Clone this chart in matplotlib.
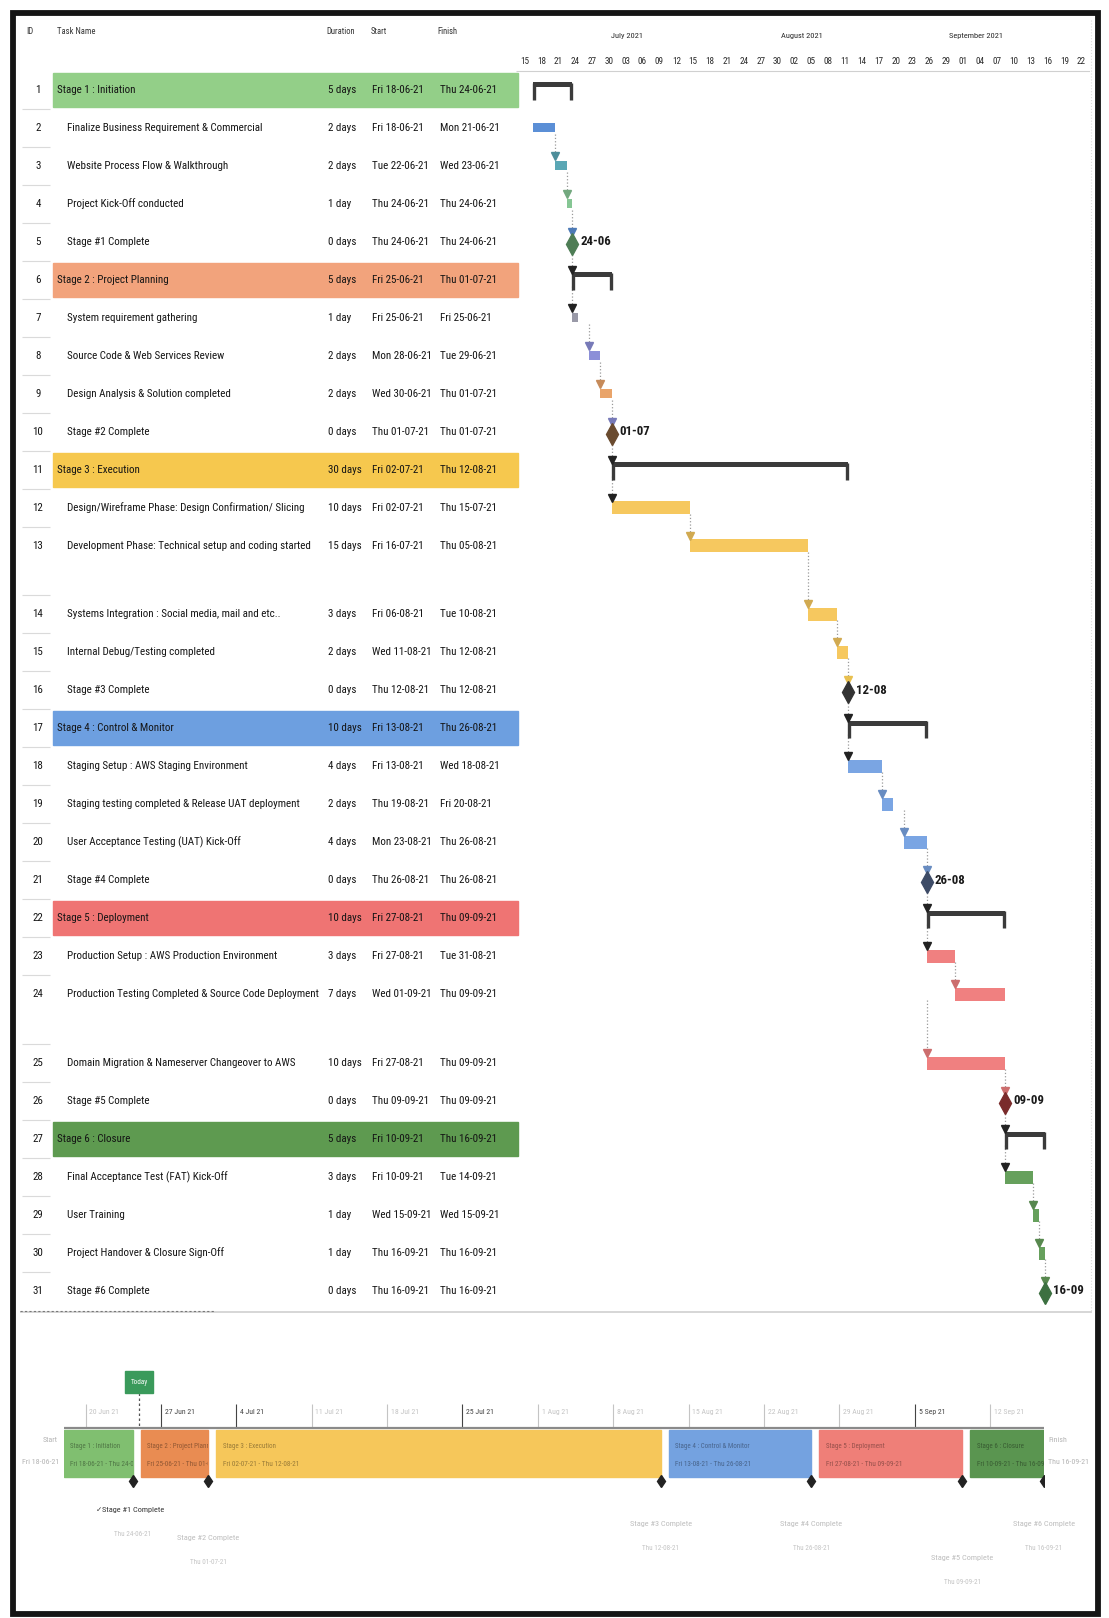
import os
import matplotlib
matplotlib.use("Agg")
import matplotlib.pyplot as plt
import matplotlib.dates as mdates
import matplotlib.colors as mcolors
from matplotlib import font_manager
from matplotlib.font_manager import FontProperties
from matplotlib.patches import Rectangle
import pandas as pd

# ---- project data ----
task_ids = list(range(1, 32))
task_names = [
    "Stage 1 : Initiation",
    "Finalize Business Requirement & Commercial",
    "Website Process Flow & Walkthrough",
    "Project Kick-Off conducted",
    "Stage #1 Complete",
    "Stage 2 : Project Planning",
    "System requirement gathering",
    "Source Code & Web Services Review",
    "Design Analysis & Solution completed",
    "Stage #2 Complete",
    "Stage 3 : Execution",
    "Design/Wireframe Phase: Design Confirmation/ Slicing",
    "Development Phase: Technical setup and coding started",
    "Systems Integration : Social media, mail and etc..",
    "Internal Debug/Testing completed",
    "Stage #3 Complete",
    "Stage 4 : Control & Monitor",
    "Staging Setup : AWS Staging Environment",
    "Staging testing completed & Release UAT deployment",
    "User Acceptance Testing (UAT) Kick-Off",
    "Stage #4 Complete",
    "Stage 5 : Deployment",
    "Production Setup : AWS Production Environment",
    "Production Testing Completed & Source Code Deployment",
    "Domain Migration & Nameserver Changeover to AWS",
    "Stage #5 Complete",
    "Stage 6 : Closure",
    "Final Acceptance Test (FAT) Kick-Off",
    "User Training",
    "Project Handover & Closure Sign-Off",
    "Stage #6 Complete",
]
durations = [5, 2, 2, 1, 0, 5, 1, 2, 2, 0, 30, 10, 15, 3, 2, 0,
             10, 4, 2, 4, 0, 10, 3, 7, 10, 0, 5, 3, 1, 1, 0]
starts = ["2021-06-18", "2021-06-18", "2021-06-22", "2021-06-24", "2021-06-24",
          "2021-06-25", "2021-06-25", "2021-06-28", "2021-06-30", "2021-07-01",
          "2021-07-02", "2021-07-02", "2021-07-16", "2021-08-06", "2021-08-11", "2021-08-12",
          "2021-08-13", "2021-08-13", "2021-08-19", "2021-08-23", "2021-08-26",
          "2021-08-27", "2021-08-27", "2021-09-01", "2021-08-27", "2021-09-09",
          "2021-09-10", "2021-09-10", "2021-09-15", "2021-09-16", "2021-09-16"]
finishes = ["2021-06-24", "2021-06-21", "2021-06-23", "2021-06-24", "2021-06-24",
            "2021-07-01", "2021-06-25", "2021-06-29", "2021-07-01", "2021-07-01",
            "2021-08-12", "2021-07-15", "2021-08-05", "2021-08-10", "2021-08-12", "2021-08-12",
            "2021-08-26", "2021-08-18", "2021-08-20", "2021-08-26", "2021-08-26",
            "2021-09-09", "2021-08-31", "2021-09-09", "2021-09-09", "2021-09-09",
            "2021-09-16", "2021-09-14", "2021-09-15", "2021-09-16", "2021-09-16"]
stage_of = [1, 1, 1, 1, 1, 2, 2, 2, 2, 2, 3, 3, 3, 3, 3, 3,
            4, 4, 4, 4, 4, 5, 5, 5, 5, 5, 6, 6, 6, 6, 6]
summary_rows = [1, 6, 11, 17, 22, 27]
today = "2021-06-25"

# ---- colours ----
row_fill = {1: "#93cf88", 2: "#f2a37c", 3: "#f6c84e", 4: "#6d9fe0", 5: "#ef7473", 6: "#5e9a50"}
seg_fill = {1: "#80bf70", 2: "#e98c52", 3: "#f6c75a", 4: "#74a2e0", 5: "#ef7f78", 6: "#5a9550"}
task_col = {1: "#5b8fd6", 2: "#8c8fd8", 3: "#f6c85f", 4: "#7aa5e3", 5: "#f08080", 6: "#66a05c"}
task_col_override = {3: "#5aa7b5", 4: "#86c694", 7: "#9a9aa8", 9: "#e9a46a"}
ms_col = {1: "#4e7d55", 2: "#6a4b2f", 3: "#333333", 4: "#3d4b66", 5: "#7a2b2b", 6: "#3c7040"}
SUM_C = "#3b3b3b"


def darker(c, f=0.72):
    r, g, b = mcolors.to_rgb(c)
    return (r * f, g * f, b * f)


# ---- fonts: the print uses a very narrow face, take the narrowest one installed ----
def find_font(patterns):
    files = [f.fname for f in font_manager.fontManager.ttflist]
    for p in patterns:
        for fn in files:
            if os.path.basename(fn).startswith(p):
                return FontProperties(fname=fn)
    return None


REG = find_font(["LiberationSansNarrow-Regular", "NotoSans-ExtraCondensed.",
                 "NotoSans-Condensed.", "RobotoCondensed-Regular", "DejaVuSansCondensed.",
                 "LiberationSans-Regular"]) or FontProperties(family="DejaVu Sans")
BOLD = find_font(["LiberationSansNarrow-Bold.", "NotoSans-ExtraCondensedBold.",
                  "NotoSans-CondensedBold.", "RobotoCondensed-Bold", "DejaVuSansCondensed-Bold.",
                  "LiberationSans-Bold."]) or FontProperties(family="DejaVu Sans", weight="bold")
CHECK = FontProperties(family="DejaVu Sans")


def fmt(d):
    return f"{d:%a} {d:%d-%m-%y}"


start_d = pd.to_datetime(starts)
finish_d = pd.to_datetime(finishes)

W, H = 1109, 1618
fig = plt.figure(figsize=(W / 100, H / 100), dpi=100)
renderer = fig.canvas.get_renderer()


def fit(sample, width_px, fp=REG, cap=None):
    t = fig.text(0, 0, sample, fontproperties=fp, fontsize=10)
    w = t.get_window_extent(renderer).width
    t.remove()
    size = 10 * width_px / w
    return min(size, cap) if cap else size


FS_BODY = fit("Development Phase: Technical setup and coding started", 241)
FS_HDR = fit("Task Name", 38)
FS_DAY = fit("15", 9, cap=FS_BODY * 0.85)
FS_MONTH = fit("July 2021", 32)
FS_MS = fit("24-06", 31, BOLD)
FS_WEEK = fit("27 Jun 21", 30)
FS_CALL = fit("Stage #3 Complete", 62)
FS_CALLD = fit("Thu 12-08-21", 37)
FS_SEG = fit("Stage 3 : Execution", 52)
FS_SEGD = fit("Fri 02-07-21 - Thu 12-08-21", 77)
FS_SIDE = fit("Fri 18-06-21", 37)
FS_TODAY = fit("Today", 17)


def px_axes(x0, y0, x1, y1):
    ax = fig.add_axes([x0 / W, 1 - y1 / H, (x1 - x0) / W, (y1 - y0) / H])
    ax.set_ylim(y1, y0)
    ax.axis("off")
    return ax


base = px_axes(0, 0, W, H)
base.set_xlim(0, W)

# row centres (rows 13 and 24 are double height in the print)
row_y = []
y = 89.8
for tid in task_ids:
    row_y.append(y)
    y += 68.6 if tid in (13, 24) else 38.0

# ---- table ----
hdr = dict(fontproperties=REG, fontsize=FS_HDR, color="#333333", va="center")
base.text(26, 31, "ID", **hdr)
base.text(57, 31, "Task Name", **hdr)
base.text(326, 31, "Duration", **hdr)
base.text(371, 31, "Start", **hdr)
base.text(437, 31, "Finish", **hdr)

txt = dict(fontproperties=REG, fontsize=FS_BODY, color="#141414", va="center")
for i, tid in enumerate(task_ids):
    yc = row_y[i]
    st = stage_of[i]
    if tid in summary_rows:
        base.add_patch(Rectangle((53, yc - 17), 465, 34, color=row_fill[st], zorder=0))
        nx = 57
    else:
        nx = 67
    base.text(38, yc, str(tid), ha="center", **txt)
    base.text(nx, yc, task_names[i], **txt)
    d = durations[i]
    base.text(328, yc, f"{d} day" if d == 1 else f"{d} days", **txt)
    base.text(372, yc, fmt(start_d[i]), **txt)
    base.text(440, yc, fmt(finish_d[i]), **txt)
    if i > 0:
        yb = (row_y[i - 1] + yc) / 2 + (15 if tid in (14, 25) else 0)
        base.hlines(yb, 22, 50, color="#dadada", lw=0.8)

# separators and frame
base.hlines(1312, 20, 1092, color="#cfcfcf", lw=1.2)
base.hlines(1311, 20, 215, color="#777777", lw=0.8, linestyles=(0, (2, 2)))
base.vlines(1091, 20, 1312, color="#dddddd", lw=0.8, linestyles=":")
base.add_patch(Rectangle((12.5, 13), 1085, 1601, fill=False, lw=4.2, edgecolor="#151515", zorder=10))

# ---- gantt chart ----
g0 = pd.Timestamp("2021-06-15")
gx = px_axes(516, 20, 1090, 1312)
gx.set_xlim(mdates.date2num(g0), mdates.date2num(g0) + 102.06)
gx.hlines(71, mdates.date2num(g0), mdates.date2num(g0) + 102.06, color="#d0d0d0", lw=0.8)

for m in pd.date_range("2021-07-01", "2021-09-01", freq="MS"):
    gx.text(mdates.date2num(m) + 3.8, 36, f"{m:%B %Y}", ha="center", va="center",
            fontproperties=REG, fontsize=FS_MONTH, color="#2a2a2a")
for d in pd.date_range(g0, periods=34, freq="3D"):
    gx.text(mdates.date2num(d) + 1.5, 62, f"{d:%d}", ha="center", va="center",
            fontproperties=REG, fontsize=FS_DAY, color="#2a2a2a")

prev_summary = False
for i, tid in enumerate(task_ids):
    yc = row_y[i]
    st = stage_of[i]
    s = mdates.date2num(start_d[i])
    e = mdates.date2num(finish_d[i]) + 1
    is_sum = tid in summary_rows
    is_ms = durations[i] == 0
    col = task_col_override.get(tid, task_col[st])
    x_in = e if is_ms else s

    # dependency connector and arrow head
    if tid > 2:
        gx.vlines(x_in, row_y[i - 1] + 6, yc - 11, color="#9a9a9a", lw=0.9, linestyles=":")
        if is_sum or prev_summary:
            tri = "#222222"
        elif is_ms:
            tri = darker(col, 0.85) if st != 3 else "#e8c050"
        else:
            tri = darker(col, 0.85)
        gx.plot(x_in, yc - 10, marker="v", ms=5.5, color=tri, zorder=5)

    if is_sum:
        gx.barh(yc - 5, e - s, left=s, height=5, color=SUM_C, zorder=4)
        gx.vlines([s + 0.18, e - 0.18], yc - 7, yc + 10, color=SUM_C, lw=2.4, zorder=4)
    elif is_ms:
        gx.plot(e, yc + 2, marker="d", ms=11, color=ms_col[st], zorder=5)
        gx.text(e + 1.4, yc, f"{finish_d[i]:%d-%m}", ha="left", va="center",
                fontproperties=BOLD, fontsize=FS_MS, color="#1a1a1a")
    else:
        h = 9 if st <= 2 else 13
        gx.barh(yc, e - s, left=s, height=h, color=col, zorder=3)
    prev_summary = is_sum

# ---- timeline strip ----
t0 = mdates.date2num(pd.Timestamp("2021-06-18"))
t1 = mdates.date2num(pd.Timestamp("2021-09-17"))
tx = px_axes(64, 1340, 1044, 1600)
tx.set_xlim(t0, t1)

highlight_weeks = {"2021-06-27", "2021-07-04", "2021-07-25", "2021-09-05"}
for d in pd.date_range("2021-06-20", "2021-09-12", freq="7D"):
    dn = mdates.date2num(d)
    dark = f"{d:%Y-%m-%d}" in highlight_weeks
    c = "#444444" if dark else "#c4c4c4"
    tx.vlines(dn, 1404, 1428, color=c, lw=0.8)
    tx.text(dn + 0.35, 1412, f"{d.day} {d:%b %y}", ha="left", va="center",
            fontproperties=REG, fontsize=FS_WEEK, color=c)

tx.hlines(1428, t0, t1, color="#8a8a8a", lw=1.6, zorder=3)

sum_idx = [task_ids.index(r) for r in summary_rows]
for k, i in enumerate(sum_idx):
    st = stage_of[i]
    s = mdates.date2num(start_d[i]) + (0.15 if k > 0 else 0)
    e = mdates.date2num(finish_d[i]) + 1 - (0.6 if k < len(sum_idx) - 1 else 0)
    rect = Rectangle((s, 1430), e - s, 47, color=seg_fill[st], zorder=2)
    tx.add_patch(rect)
    for ty, label, fsz in [(1446, task_names[i], FS_SEG),
                           (1465, f"{fmt(start_d[i])} - {fmt(finish_d[i])}", FS_SEGD)]:
        t = tx.text(s + 0.6, ty, label, ha="left", va="center", fontproperties=REG,
                    fontsize=fsz, color=darker(seg_fill[st], 0.62), zorder=3, clip_on=True)
        t.set_clip_path(rect)
    tx.plot(e, 1481, marker="d", ms=6.5, color="#222222", zorder=4)

# today flag
td = mdates.date2num(pd.Timestamp(today))
tx.vlines(td, 1393, 1428, color="#555555", lw=0.9, linestyles=(0, (2, 2)))
tx.add_patch(Rectangle((td - 1.3, 1371), 2.6, 22, color="#3a9a5b", zorder=4))
tx.text(td, 1382, "Today", ha="center", va="center", fontproperties=REG,
        fontsize=FS_TODAY, color="white", zorder=5)

# start / finish labels
grey = "#b4b4b4"
side = dict(fontproperties=REG, fontsize=FS_SIDE, color=grey, va="center")
base.text(58, 1440, "Start", ha="right", **side)
base.text(59, 1462, fmt(start_d[0]), ha="right", **side)
base.text(1048, 1440, "Finish", ha="left", **side)
base.text(1048, 1462, fmt(finish_d[26]), ha="left", **side)

# milestone callouts under the strip
ms_idx = [i for i, d in enumerate(durations) if d == 0]
callout_y = [1510, 1538, 1524, 1524, 1558, 1524]
for k, i in enumerate(ms_idx):
    x = mdates.date2num(finish_d[i]) + 1 - (0.6 if k < len(ms_idx) - 1 else 0)
    c = "#333333" if k == 0 else "#bdbdbd"
    lab = tx.text(x, callout_y[k], task_names[i], ha="center", va="center",
                  fontproperties=REG, fontsize=FS_CALL, color=c)
    if k == 0:
        tx.annotate("\u2713", xy=(0, 0.5), xycoords=lab, ha="right", va="center",
                    fontproperties=CHECK, fontsize=FS_CALL * 0.9, color=c)
    tx.text(x, callout_y[k] + 24, fmt(finish_d[i]), ha="center", va="center",
            fontproperties=REG, fontsize=FS_CALLD, color="#c4c4c4")

fig.savefig("out.png", dpi=100)
